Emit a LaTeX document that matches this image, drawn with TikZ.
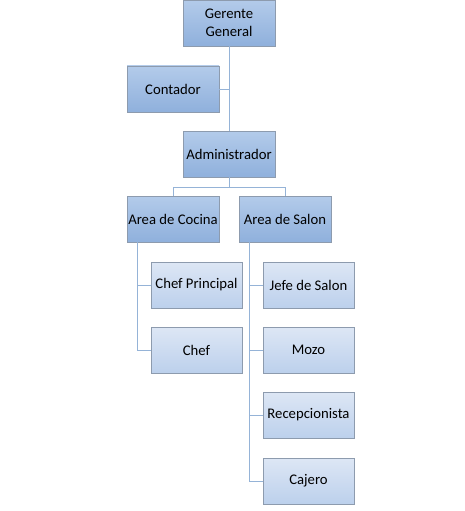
\documentclass[tikz,border=0pt]{standalone}
\usepackage{fontspec}
\setmainfont{Carlito}
\begin{document}
\begin{tikzpicture}[x=1pt,y=-1pt,
  lvl1/.style={draw=boxborder,line width=0.9pt,top color=topA,bottom color=botA,minimum width=92pt,minimum height=46pt,inner sep=1pt,align=center,font=\fontsize{14.7}{18}\selectfont,text=black},
  lvl2/.style={draw=boxborder,line width=0.9pt,top color=topB,bottom color=botB,minimum width=91pt,minimum height=46pt,inner sep=1pt,align=center,font=\fontsize{14.7}{18}\selectfont,text=black},
  conn/.style={draw=linecol,line width=0.9pt}]
\definecolor{boxborder}{HTML}{8D9BAE}
\definecolor{topA}{HTML}{B3CBEA}
\definecolor{botA}{HTML}{8FB0DC}
\definecolor{topB}{HTML}{DDE7F5}
\definecolor{botB}{HTML}{BCD0EC}
\definecolor{linecol}{HTML}{95B3D7}
\useasboundingbox (0,0) rectangle (465,511);
\node[lvl1] (gg) at (229,23) {Gerente\\General};
\node[lvl1] (cont) at (173,89) {Contador};
\node[lvl1] (adm) at (229,154) {Administrador};
\node[lvl1] (coc) at (173,219) {Area de Cocina};
\node[lvl1] (sal) at (285,219) {Area de Salon};
\node[lvl2] (cp) at (196.5,285) {Chef Principal};
\node[lvl2] (chef) at (196.5,350) {Chef};
\node[lvl2] (js) at (308.5,285) {Jefe de Salon};
\node[lvl2] (mozo) at (308.5,350) {Mozo};
\node[lvl2] (rec) at (308.5,415) {Recepcionista};
\node[lvl2] (caj) at (308.5,481) {Cajero};
\coordinate (cj) at (229,89);
\coordinate (hb) at (229,187);
\coordinate (cx) at (137,242);
\coordinate (sx) at (249,242);
\draw[conn] (gg.south) -- (adm.north);
\draw[conn] (cont.east) -- (cj);
\draw[conn] (adm.south) -- (hb);
\draw[conn] (coc.north) -- (coc.north |- hb) -- (sal.north |- hb) -- (sal.north);
\draw[conn] (cx) -- (cx |- chef.west) -- (chef.west);
\draw[conn] (cx |- cp.west) -- (cp.west);
\draw[conn] (sx) -- (sx |- caj.west) -- (caj.west);
\draw[conn] (sx |- js.west) -- (js.west);
\draw[conn] (sx |- mozo.west) -- (mozo.west);
\draw[conn] (sx |- rec.west) -- (rec.west);
\end{tikzpicture}
\end{document}
